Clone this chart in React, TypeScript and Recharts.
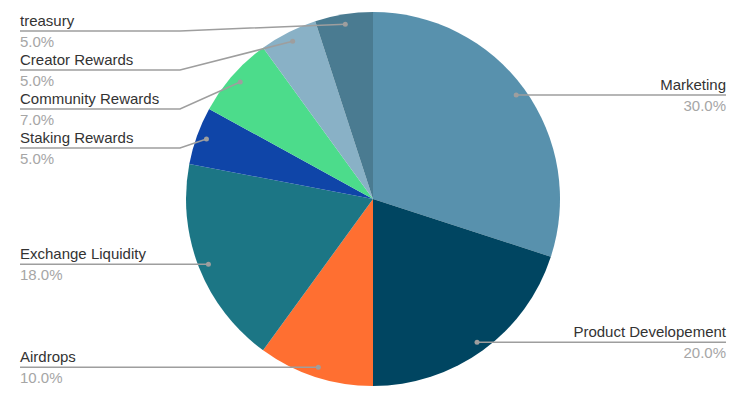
import { Cell, Pie, PieChart } from "recharts";

const NAMES = [
  "Marketing",
  "Product Developement",
  "Airdrops",
  "Exchange Liquidity",
  "Staking Rewards",
  "Community Rewards",
  "Creator Rewards",
  "treasury",
];
const VALUES = [30, 20, 10, 18, 5, 7, 5, 5];
const COLORS = ["#5891ad", "#004561", "#ff6f31", "#1c7685", "#0f45a8", "#4cdc8b", "#89b1c6", "#4a7b91"];

const rows = NAMES.map((name, i) => ({ name, value: VALUES[i] }));
const TOTAL = VALUES.reduce((a, b) => a + b, 0);

const FONT = "'Liberation Sans', Arial, sans-serif";
const GAP = 39; // vertical room needed between stacked labels
const TOP = 31;

type Spot = { dotX: number; dotY: number; lineY: number; right: boolean };

// place the dots on the slices, then push labels down so they don't collide
function layout(cx: number, cy: number, r: number): Spot[] {
  let cum = 0;
  const spots: Spot[] = VALUES.map((v) => {
    const t = ((cum + v / 2) / TOTAL) * Math.PI * 2;
    cum += v;
    const dr = r - 10;
    const dotX = cx + Math.sin(t) * dr;
    const dotY = cy - Math.cos(t) * dr;
    return { dotX, dotY, lineY: dotY, right: dotX >= cx };
  });
  for (const side of [true, false]) {
    const list = spots.filter((s) => s.right === side).sort((a, b) => a.dotY - b.dotY);
    let prev = TOP - GAP;
    for (const s of list) {
      s.lineY = Math.max(s.dotY, prev + GAP);
      prev = s.lineY;
    }
  }
  return spots;
}

function renderLabel(props: any) {
  const { cx, cy, outerRadius, index } = props;
  const s = layout(cx, cy, outerRadius)[index];
  const edge = s.right ? 726 : 20;
  const bend = s.right ? cx + outerRadius + 6 : cx - outerRadius - 6;
  const pct = `${((VALUES[index] / TOTAL) * 100).toFixed(1)}%`;
  const anchor = s.right ? "end" : "start";
  return (
    <g key={`lbl-${index}`}>
      <polyline
        points={`${edge},${s.lineY} ${bend},${s.lineY} ${s.dotX},${s.dotY}`}
        fill="none"
        stroke="#9e9e9e"
        strokeWidth={1.5}
      />
      <circle cx={s.dotX} cy={s.dotY} r={2.5} fill="#9e9e9e" />
      <text x={edge} y={s.lineY - 5} textAnchor={anchor} fontSize={15} fontFamily={FONT} fill="#333">
        {NAMES[index]}
      </text>
      <text x={edge} y={s.lineY + 16} textAnchor={anchor} fontSize={15} fontFamily={FONT} fill="#a6a6a6">
        {pct}
      </text>
    </g>
  );
}

export default function App() {
  return (
    <div style={{ position: "absolute", left: 0, top: 0, background: "#fff" }}>
      <PieChart width={748} height={402} margin={{ top: 0, right: 0, bottom: 0, left: 0 }}>
        <Pie
          data={rows}
          dataKey="value"
          nameKey="name"
          cx={373}
          cy={199}
          outerRadius={187}
          startAngle={90}
          endAngle={-270}
          stroke="none"
          label={renderLabel}
          labelLine={false}
          isAnimationActive={false}
        >
          {rows.map((r, i) => (
            <Cell key={r.name} fill={COLORS[i]} />
          ))}
        </Pie>
      </PieChart>
    </div>
  );
}
